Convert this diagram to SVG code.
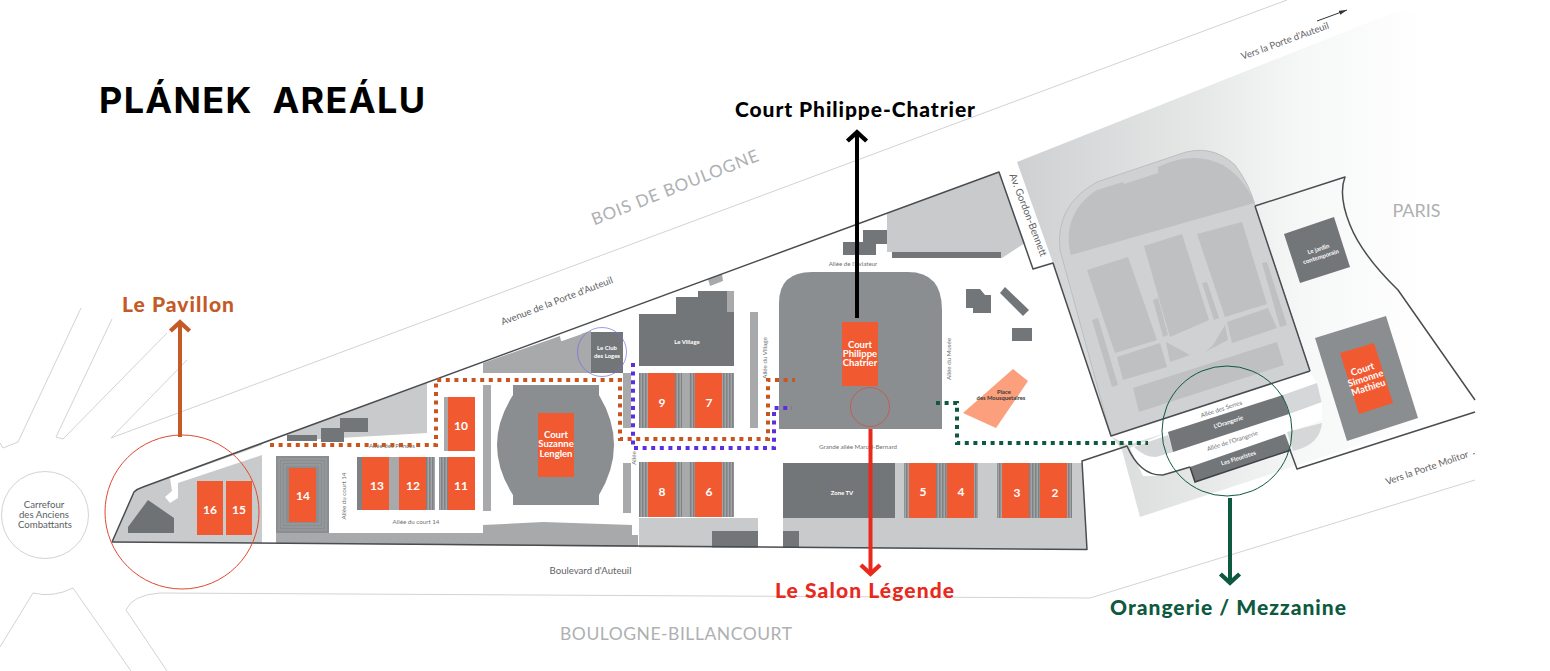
<svg xmlns="http://www.w3.org/2000/svg" width="1550" height="671" viewBox="0 0 1550 671">
<style>
text{font-family:"Lato","Liberation Sans",sans-serif}
.road{fill:none;stroke:#d2d3d4;stroke-width:1}
.edge{fill:none;stroke:#4a4d50;stroke-width:1.5;stroke-linejoin:round}
.lt{fill:#c9cacb}.md{fill:#a7a9ab}.dk{fill:#737679}.sl{fill:#8b8e91}.or{fill:#f15a31}
.wh{fill:#fff}
.plot{fill:#bfc0c2}
.num{fill:#fff;font-size:12px;font-weight:700;text-anchor:middle;dominant-baseline:central}
.ct{fill:#fff;font-size:9.5px;font-weight:700;text-anchor:middle}
.bl{fill:#fff;font-size:6px;font-weight:700;text-anchor:middle}
.al{fill:#6d7073;font-size:6.2px;text-anchor:middle}
.geo{fill:#aeb0b2;text-anchor:middle}
.st{fill:#5f6265;font-size:9.6px;text-anchor:middle}
.lab{font-size:21px;font-weight:900;text-anchor:middle}
.dot{fill:none;stroke-width:4;stroke-dasharray:4 4.6}
.ar{fill:none;stroke-width:4}
.cir{fill:none}
</style>
<defs>
<linearGradient id="paper" gradientUnits="userSpaceOnUse" x1="1017" y1="0" x2="1425" y2="0">
<stop offset="0" stop-color="#cfd0d1"/><stop offset=".45" stop-color="#e6e7e7"/><stop offset=".7" stop-color="#f6f7f7"/><stop offset="1" stop-color="#fff"/>
</linearGradient>
<pattern id="stripe" width="3" height="10" patternUnits="userSpaceOnUse">
<rect width="3" height="10" fill="#a2a4a6"/><rect width="1.5" height="10" fill="#7f8285"/>
</pattern>
<marker id="chev" markerWidth="6" markerHeight="6" viewBox="0 0 6 6" refX="5" refY="3" orient="auto" markerUnits="strokeWidth">
<path d="M3,.6 L5.2,3 L3,5.4" fill="none" stroke="context-stroke" stroke-width="1.1"/>
</marker>
<marker id="tiny" markerWidth="8" markerHeight="6" viewBox="0 0 8 6" refX="8" refY="3" orient="auto">
<path d="M0,0.8 L8,3 L0,5.2Z" fill="#333"/>
</marker>
</defs>

<g id="surroundings">
<path class="road" d="M111,438L1287,0M187,360L111,438M167,333L63,439L56,437L112,319M81,308L18,442L3,448L0,443M0,647L33,593Q53,598 73,588L131,671M167,671L126,610Q132,595 160,593L1090,598L1475,480"/>
<circle class="road" cx="45" cy="515" r="43.5" stroke-width="1.2"/>
<text fill="#5b5e61" font-size="9.6" text-anchor="middle"><tspan x="44" y="508">Carrefour</tspan><tspan x="44" y="518">des Anciens</tspan><tspan x="45" y="527.500">Combattants</tspan></text>
<text class="geo" font-size="17" transform="translate(677,193) rotate(-21.500)" textLength="178">BOIS DE BOULOGNE</text>
<text class="st" transform="translate(558,304) rotate(-21)">Avenue de la Porte d'Auteuil</text>
<text class="st" x="590.500" y="574">Boulevard d'Auteuil</text>
<text class="geo" font-size="17.500" x="676" y="640" textLength="232">BOULOGNE-BILLANCOURT</text>
</g>

<g id="paper-area">
<polygon points="1017,162 1400,10 1475,30 1475,407 1140,517 1122,450 1111,436 1053,263" fill="url(#paper)"/>
<text class="geo" font-size="18" x="1416.500" y="217">PARIS</text>
<text class="st" transform="translate(1286,44) rotate(-20)">Vers la Porte d'Auteuil</text>
<path d="M1317,21L1347,10" stroke="#333" stroke-width="1" fill="none" marker-end="url(#tiny)"/>
<text class="st" transform="translate(1428,471) rotate(-19)">Vers la Porte Molitor</text>
<path d="M1473,454L1475,453.500" stroke="#777" stroke-width="1"/>
</g>

<g id="garden">
<path d="M1111,436L1060,250Q1055,205 1097,182L1177,155Q1210,142 1235,165Q1250,185 1255,206L1310,371Z" fill="#d0d1d2" stroke="#bdbec0" stroke-width="1"/>
<path class="plot" d="M1071,255C1065,233 1070,207 1097,190L1123,182L1124,184L1158,173L1158,167Q1193,150 1223,165Q1243,177 1255,203L1247,205Z"/>
<polygon class="plot" points="1087,270 1128,257 1157,340 1115,353"/>
<polygon class="plot" points="1144,246 1182,234 1209,320 1170,337"/>
<polygon class="plot" points="1197,234 1242,222 1267,304 1225,317"/>
<polygon class="plot" points="1117,357 1160,343 1167,367 1123,380"/>
<polygon class="plot" points="1227,322 1268,308 1277,328 1232,343"/>
<polygon class="plot" points="1133,388 1277,342 1284,365 1139,412"/>
<polygon class="plot" points="1092,320 1098,318 1118,385 1112,387"/>
<polygon class="plot" points="1262,263 1267,262 1287,325 1280,327"/>
<polygon class="plot" points="1153,300 1158,298 1168,335 1163,337"/>
<polygon class="plot" points="1202,283 1207,282 1219,318 1214,320"/>
<polygon class="plot" points="1166,342 1190,355 1170,362"/>
<polygon class="plot" points="1213,345 1225,325 1228,340 1205,352"/>
</g>

<g id="orangerie-area">
<polygon class="wh" points="1110,436 1310,372 1317,383 1283,395 1168,432 1128,445"/>
<polygon points="1283,395 1317,383 1322,404 1289,415" fill="#d6d7d8"/>
<polygon class="wh" points="1173,452 1289,414 1322,402 1322,420 1285,434 1190,467 1163,476 1143,476 1130,448 1168,432"/>
<path d="M1287,432L1322,423Q1320,445 1293,451Z" fill="#d6d7d8"/>
<path d="M1134,447L1168,435L1173,452L1156,457Q1144,457 1134,447Z" fill="#d6d7d8"/>
<polygon class="dk" points="1168,432 1283,395 1289,414 1173,452"/>
<polygon class="dk" points="1190,467 1285,434 1291,450 1195,482"/>
<path d="M1190,467L1195,482L1291,450" fill="none" stroke="#3f4245" stroke-width="1.500"/>
<g font-size="6" text-anchor="middle">
<text class="al" transform="translate(1222,411) rotate(-18)">Allée des Serres</text>
<text class="bl" transform="translate(1229,424) rotate(-18)">L'Orangerie</text>
<text class="al" transform="translate(1233,443) rotate(-18)">Allée de l'Orangerie</text>
<text class="bl" transform="translate(1239,460) rotate(-18)">Les Fleuristes</text>
</g>
<polygon class="dk" points="1284,234 1334,217 1350,267 1300,283"/>
<text class="bl" transform="translate(1319,251) rotate(-18)"><tspan x="0" y="0">Le jardin</tspan><tspan x="0" y="8">contemporain</tspan></text>
<polygon class="sl" points="1315,338 1386,316 1418,418 1347,441"/>
<polygon class="or" points="1340,353 1374,343 1393,403 1359,414"/>
<text class="ct" transform="translate(1366,380) rotate(-18)"><tspan x="0" y="-8">Court</tspan><tspan x="0" y="1.500">Simonne</tspan><tspan x="0" y="11">Mathieu</tspan></text>
</g>

<g id="site-grounds">
<polygon class="lt" points="112,542 134,492 143,487 262,443 262,543"/>
<polygon class="wh" points="170,478 262,445 262,455 178,483 178,498 170,503 165,497 172,491"/>
<polygon points="128,527 148,500 174,518 174,533 128,533" fill="#6f7275"/>
<polygon class="lt" points="287,434 427,383 427,433 287,441"/>
<rect x="287" y="435" width="30" height="6" class="dk"/>
<polygon class="dk" points="321,428 340,428 340,418 368,418 368,432 344,432 344,442 321,442"/>
<polygon class="md" points="276,533 483,533 483,525 543,522 632,525 632,535 638,535 638,547 276,543.300"/>
<rect x="639" y="518" width="119" height="29.500" class="lt"/>
<rect x="712" y="531" width="46" height="16.500" class="dk"/>
<polygon class="lt" points="783,518 783,463 1082,463 1087,549 783,548"/>
<rect x="783" y="531" width="16" height="17" class="dk"/>
<polygon class="md" points="483,373 483,363 560,336 561,341 580,334 591,331 591,373"/>
<polygon class="wh" points="560,336 580,329 582,334 562,341"/>
<rect x="591" y="332" width="32" height="41" class="dk"/>
<text class="bl"><tspan x="607" y="350">Le Club</tspan><tspan x="607" y="358">des Loges</tspan></text>
<polygon class="lt" points="887,213 999,172 1025,243 1002,258 892,258 892,252 887,252"/>
<rect x="892" y="252" width="109" height="6" class="dk"/>
<polygon class="dk" points="843,242 863,242 863,230 887,230 887,244 876,244 876,255 843,255"/>
<polygon class="dk" points="966,289 980,289 985,295 991,295 991,313 973,313 973,308 966,308"/>
<polygon class="dk" points="1005,287 1029,310 1023,316 1000,293"/>
<rect x="1012" y="328" width="20" height="13" class="dk"/>
<polygon points="1013,369 1028,381 996,428 963,413" fill="#fb9f7c"/>
<text fill="#3a3a3a" font-size="5.800" font-weight="700" text-anchor="middle"><tspan x="1004" y="393.500">Place</tspan><tspan x="1001" y="400">des Mousquetaires</tspan></text>
<rect x="483" y="385" width="8" height="126" class="md"/>
<rect x="623" y="373" width="8" height="55" class="md"/>
<rect x="623" y="463" width="8" height="50" class="md"/>
<rect x="750" y="312" width="8" height="116" class="md"/>
<polygon class="md" points="708,279 722,274 723,281 710,286"/>
</g>

<g id="buildings">
<polygon class="dk" points="639,314 676,314 676,297 698,297 698,291 734,291 734,366 639,366"/>
<rect x="727" y="291" width="7" height="21" class="md"/>
<text class="bl" x="687" y="344">Le Village</text>
<rect x="783" y="463" width="112" height="55" class="dk"/>
<text class="bl" x="842" y="495">Zone TV</text>
</g>

<g id="court-stands">
<rect x="639" y="373" width="95" height="55" fill="url(#stripe)"/>
<rect x="639" y="462" width="95" height="55" fill="url(#stripe)"/>
<rect x="682" y="373" width="7" height="55" class="md"/>
<rect x="682" y="462" width="7" height="55" class="md"/>
<rect x="357" y="457" width="78" height="53" class="md"/>
<rect x="357" y="457" width="5" height="53" fill="#7f8285"/>
<rect x="426" y="457" width="9" height="53" fill="url(#stripe)"/>
<rect x="439" y="457" width="9" height="53" fill="url(#stripe)"/>
<rect x="444" y="397" width="4" height="54" class="md"/>
<rect x="904" y="463" width="74" height="55" fill="url(#stripe)"/>
<rect x="997" y="463" width="75" height="55" fill="url(#stripe)"/>
<rect x="276" y="456" width="53" height="77" class="sl"/>
<rect x="279" y="459" width="47" height="71" fill="none" stroke="#a7a9ab" stroke-width=".7"/>
<rect x="282" y="462" width="41" height="65" fill="none" stroke="#a7a9ab" stroke-width=".7"/>
<rect x="285" y="465" width="35" height="59" fill="none" stroke="#a7a9ab" stroke-width=".7"/>
</g>

<g id="courts">
<path class="sl" d="M513,385H599V395Q614,420 614,445Q614,470 599,495V505H513V495Q497,470 497,445Q497,420 513,395Z"/>
<path class="sl" d="M779,303Q779,272 812,272H908Q942,272 942,310V429H779Z"/>
<rect class="or" x="197" y="481" width="26" height="54"/><text class="num" x="210" y="509">16</text>
<rect class="or" x="226" y="481" width="26" height="54"/><text class="num" x="239" y="509">15</text>
<rect class="or" x="289" y="468" width="27" height="54"/><text class="num" x="303" y="495">14</text>
<rect class="or" x="362" y="457" width="27" height="53"/><text class="num" x="377" y="485">13</text>
<rect class="or" x="399" y="457" width="27" height="53"/><text class="num" x="413" y="485">12</text>
<rect class="or" x="448" y="457" width="27" height="53"/><text class="num" x="461" y="485">11</text>
<rect class="or" x="448" y="397" width="27" height="54"/><text class="num" x="461" y="425">10</text>
<rect class="or" x="648" y="373" width="27" height="55"/><text class="num" x="662" y="402">9</text>
<rect class="or" x="695" y="373" width="27" height="55"/><text class="num" x="709" y="402">7</text>
<rect class="or" x="648" y="462" width="27" height="55"/><text class="num" x="662" y="491">8</text>
<rect class="or" x="695" y="462" width="27" height="55"/><text class="num" x="709" y="491">6</text>
<rect class="or" x="909" y="463" width="27" height="55"/><text class="num" x="923" y="491">5</text>
<rect class="or" x="947" y="463" width="27" height="55"/><text class="num" x="961" y="491">4</text>
<rect class="or" x="1002" y="463" width="27" height="55"/><text class="num" x="1017" y="492">3</text>
<rect class="or" x="1040" y="463" width="27" height="55"/><text class="num" x="1055" y="492">2</text>
<rect class="or" x="538" y="413" width="36" height="64"/>
<text class="ct"><tspan x="556" y="437.500">Court</tspan><tspan x="556" y="447">Suzanne</tspan><tspan x="556" y="456.500">Lenglen</tspan></text>
<rect class="or" x="842" y="322" width="36" height="64"/>
<text class="ct"><tspan x="860" y="347.500">Court</tspan><tspan x="860" y="356.500">Philippe</tspan><tspan x="860" y="365.500">Chatrier</tspan></text>
</g>

<g id="alley-labels">
<text class="al" x="416" y="524">Allée du court 14</text>
<text class="al" transform="translate(346,496) rotate(-90)">Allée du court 14</text>
<text class="al" x="392" y="448">Allée des Princes</text>
<text class="al" x="853" y="266">Allée de l'Aviateur</text>
<text class="al" transform="translate(767,358) rotate(-90)">Allée du Village</text>
<text class="al" transform="translate(951,359) rotate(-90)">Allée du Musée</text>
<text class="al" x="858" y="448.500">Grande allée Marcel-Bernard</text>
<text class="al" transform="translate(636,458) rotate(-90)">Allée</text>
<text class="st" style="font-size:10px" transform="translate(1025,216) rotate(69)">Av. Gordon-Bennett</text>
</g>

<g id="boundaries">
<path class="edge" d="M112,542L134,492Q137,489 143,487L999,172L1033,269L1053,263L1111,436L1310,371M1255,206L1345,177Q1338,195 1350,225Q1362,255 1398,290L1475,400"/>
<path class="edge" d="M1255,206L1310,371"/>
<path class="edge" d="M112,542L1087,549.500L1082,461L1127,446Q1140,476 1163,475L1190,467M1290,450L1297,469L1475,412"/>
</g>

<g id="connectors">
<path class="dot" stroke="#c8551e" d="M270,445H436V380H620V439H768V380H795"/>
<path class="dot" stroke="#5b2ee0" d="M633,363V448H774V408H792"/>
<path class="dot" stroke="#0d5a3e" d="M936,403H957V443H1148"/>
<path class="ar" stroke="#000" d="M857,318V133" marker-end="url(#chev)"/>
<path class="ar" stroke="#e8291c" d="M870.500,429V573" marker-end="url(#chev)"/>
<path class="ar" stroke="#c45a26" d="M180,437V323" marker-end="url(#chev)"/>
<path class="ar" stroke="#0d5a3e" d="M1230,498V582" marker-end="url(#chev)"/>
<circle class="cir" cx="182" cy="512" r="77" stroke="#e0492f" stroke-width="1"/>
<circle class="cir" cx="870" cy="407" r="19.500" stroke="#d9473a" stroke-width=".7"/>
<circle class="cir" cx="602" cy="352" r="24.500" stroke="#7a6ce0" stroke-width=".7"/>
<circle class="cir" cx="1227" cy="431" r="65" stroke="#0d5a3e" stroke-width="1"/>
</g>

<g id="titles">
<text x="99" y="113" font-size="36" font-weight="700" fill="#000" style="font-family:Inter,Lato,sans-serif" textLength="326" xml:space="preserve">PLÁNEK  AREÁLU</text>
<text class="lab" fill="#000" x="855" y="117" textLength="240">Court Philippe-Chatrier</text>
<text class="lab" fill="#c45a26" x="178" y="312" textLength="112">Le Pavillon</text>
<text class="lab" fill="#e8291c" x="864.500" y="598" textLength="179">Le Salon Légende</text>
<text class="lab" fill="#0d5a3e" x="1228" y="615" textLength="236">Orangerie / Mezzanine</text>
</g>
</svg>
